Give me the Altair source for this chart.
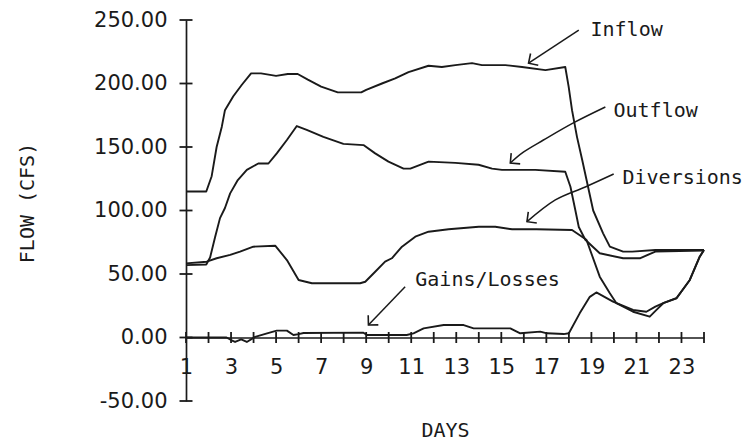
import math
import altair as alt
import pandas as pd

# ---------------- data ----------------
INFLOW_DAY = [1.0, 1.9, 2.14, 2.36, 2.59, 2.73, 3.10, 3.48, 3.89, 4.33, 5.0, 5.52, 5.96, 6.41, 7.0,
              7.74, 8.78, 9.0, 9.70, 10.29, 10.88, 11.77, 12.36, 12.96, 13.70, 14.14, 15.18, 15.92,
              16.96, 17.84, 17.99, 18.14, 18.36, 18.59, 18.81, 19.08, 19.52, 19.82, 20.41, 20.81,
              21.84, 24.0]
INFLOW_FLOW = [115, 115, 127, 150, 166, 179, 190, 199, 208, 208, 206, 207.5, 207.5, 203, 197.5,
               193, 193, 195, 200, 204, 209, 214, 213, 214.5, 216, 214.5, 214.5, 213,
               210.5, 213, 197.5, 179, 158, 140, 122, 100, 82, 71.5, 67.6, 67.6,
               68.9, 68.9]

OUTFLOW_DAY = [1.0, 1.9, 2.07, 2.29, 2.51, 2.73, 2.96, 3.3, 3.70, 4.21, 4.66, 5.03, 5.48, 5.92,
               6.36, 7.1, 7.99, 8.88, 9.4, 9.99, 10.66, 10.96, 11.77, 12.96, 13.99, 14.59, 15.03,
               16.51, 17.84, 18.07, 18.29, 18.44, 18.73, 19.37, 20.41, 21.15, 21.84, 24.0]
OUTFLOW_FLOW = [57, 57.5, 63, 79, 94, 102, 113.5, 124, 132, 137, 137, 145, 155.5, 166.5,
                163.5, 158, 152.5, 151.5, 145, 138.5, 133, 133, 138.5, 137.5, 136, 133, 132,
                132, 130.5, 118.7, 100, 87, 77, 66.3, 62.4, 62.4, 67.6, 68.5]

DIVERSIONS_DAY = [1.0, 1.92, 2.36, 2.96, 3.4, 3.99, 4.96, 5.48, 6.0, 6.59, 8.73, 8.96, 9.4, 9.84,
                  10.14, 10.59, 11.18, 11.77, 12.66, 14.0, 14.73, 15.48, 16.56, 18.14, 18.78,
                  19.37, 19.82, 20.11, 20.85, 21.59, 21.89, 22.19, 22.78, 23.37, 23.81, 24.0]
DIVERSIONS_FLOW = [58.4, 59.7, 62.4, 65, 67.6, 71.5, 72.3, 61, 45.3, 42.7, 42.7, 43.9, 51.8, 59.7,
                   62.4, 71.5, 79.4, 83.3, 85.2, 87.2, 87.2, 85.2, 85.2, 84.6, 77,
                   47.9, 34.8, 27, 20.3, 16.4, 21.7, 27, 30.9, 45.3, 63.6, 68.9]

GAINS_DAY = [1.0, 2.8, 3.0, 3.18, 3.45, 3.7, 4.07, 4.6, 5.03, 5.48, 5.77, 6.0, 6.22, 8.88, 9.03,
             10.8, 11.1, 11.55, 12.44, 13.33, 13.77, 15.4, 15.84, 16.73, 17.03, 17.77, 18.0,
             18.48, 18.93, 19.22, 19.96, 20.85, 21.44, 21.84, 22.19, 22.78, 23.37, 23.81, 24.0]
GAINS_FLOW = [0, 0, -2, -3.5, -1.5, -3.5, 0.5, 3.3, 5.4, 5.4, 2, 2.7, 3.5, 3.8, 2,
              2, 3.3, 7.2, 9.8, 9.8, 7.2, 7.2, 3.3, 4.6, 3.3, 2.7, 3.3,
              19, 32, 35.5, 28.2, 21.7, 20.3, 24.3, 27, 31, 45.3, 63.6, 68.9]

SERIES_NAMES = ["Inflow", "Outflow", "Diversions", "Gains/Losses"]

# annotation labels
LABEL_TEXT = ["Inflow", "Outflow", "Diversions", "Gains/Losses"]
LABEL_DAY = [18.96, 19.98, 20.38, 11.18]
LABEL_FLOW = [242, 178, 125.6, 44.9]

# arrow paths (label end -> tip)
ARROW_INFLOW_DAY = [18.44, 16.21]
ARROW_INFLOW_FLOW = [242, 216]
ARROW_OUTFLOW_DAY = [19.62, 18.2, 16.87, 15.98, 15.4]
ARROW_OUTFLOW_FLOW = [181.5, 169, 155.5, 146, 137.4]
ARROW_DIV_DAY = [19.99, 18.73, 17.4, 16.14]
ARROW_DIV_FLOW = [128.7, 118.5, 108.3, 91.2]
ARROW_GAINS_DAY = [10.73, 9.1]
ARROW_GAINS_FLOW = [40, 9.8]

DAY_TICKS = list(range(1, 25))
FLOW_TICKS = [-50, 0, 50, 100, 150, 200, 250]
X_DOMAIN = [1, 24]
Y_DOMAIN = [-50, 250]

# ---------------- layout / style ----------------
W, H = 518, 381
INK = "#1a1a1a"
FONT_SANS = "DejaVu Sans"
FONT_MONO = "DejaVu Sans Mono"

# ---------------- tables ----------------
rows = []
for name, days, vals in zip(SERIES_NAMES,
                            [INFLOW_DAY, OUTFLOW_DAY, DIVERSIONS_DAY, GAINS_DAY],
                            [INFLOW_FLOW, OUTFLOW_FLOW, DIVERSIONS_FLOW, GAINS_FLOW]):
    for i, (d, v) in enumerate(zip(days, vals)):
        rows.append({"series": name, "day": d, "flow": v, "order": i})
lines_df = pd.DataFrame(rows)

arrows = [("a_in", ARROW_INFLOW_DAY, ARROW_INFLOW_FLOW),
          ("a_out", ARROW_OUTFLOW_DAY, ARROW_OUTFLOW_FLOW),
          ("a_div", ARROW_DIV_DAY, ARROW_DIV_FLOW),
          ("a_gain", ARROW_GAINS_DAY, ARROW_GAINS_FLOW)]
arows, heads = [], []
px_day = W / (X_DOMAIN[1] - X_DOMAIN[0])
px_flow = H / (Y_DOMAIN[1] - Y_DOMAIN[0])
for name, days, vals in arrows:
    for i, (d, v) in enumerate(zip(days, vals)):
        arows.append({"arrow": name, "day": d, "flow": v, "order": i})
    dx = (days[-1] - days[-2]) * px_day
    dy = -(vals[-1] - vals[-2]) * px_flow
    ang = math.degrees(math.atan2(dy, dx)) % 360
    heads.append({"day": days[-1], "flow": vals[-1], "angle": ang})
arrow_df = pd.DataFrame(arows)
head_df = pd.DataFrame(heads)

labels_df = pd.DataFrame({"day": LABEL_DAY, "flow": LABEL_FLOW, "text": LABEL_TEXT})

xt_df = pd.DataFrame({"day": [float(d) for d in DAY_TICKS], "flow": [0.0] * len(DAY_TICKS)})
yt_df = pd.DataFrame({"day": [float(X_DOMAIN[0])] * len(FLOW_TICKS), "flow": [float(v) for v in FLOW_TICKS]})

x_scale = alt.Scale(domain=X_DOMAIN, nice=False, zero=False)
y_scale = alt.Scale(domain=Y_DOMAIN, nice=False, zero=False)

zero_offset = -H * (0 - Y_DOMAIN[0]) / (Y_DOMAIN[1] - Y_DOMAIN[0])

x_axis = alt.Axis(
    title="DAYS", values=DAY_TICKS, format="d",
    labelExpr="datum.value % 2 == 1 ? datum.label : ''",
    offset=zero_offset, ticks=False, grid=False,
    domainColor=INK, domainWidth=1.7,
    labelFont=FONT_SANS, labelFontSize=21, labelColor=INK, labelPadding=19,
    labelFlush=False, labelOverlap=False, labelBound=False,
    titleFont=FONT_MONO, titleFontSize=20, titleFontWeight="normal", titleColor=INK,
    titleX=W / 2, titleY=430 - (20 + H + zero_offset), titleBaseline="middle", titleAlign="center",
)
y_axis = alt.Axis(
    title="FLOW (CFS)", values=FLOW_TICKS,
    labelExpr="(datum.value < 0 ? '-' : '') + format(abs(datum.value), '.2f')",
    ticks=False, grid=False,
    domainColor=INK, domainWidth=1.7,
    labelFont=FONT_SANS, labelFontSize=21, labelColor=INK, labelPadding=19,
    labelFlush=False, labelOverlap=False, labelBound=False,
    titleFont=FONT_MONO, titleFontSize=20, titleFontWeight="normal", titleColor=INK,
    titleX=27.5 - 186, titleY=202.5 - 20, titleAngle=270, titleBaseline="middle", titleAlign="center",
)

X_ENC = alt.X("day:Q", scale=x_scale, axis=x_axis)
Y_ENC = alt.Y("flow:Q", scale=y_scale, axis=y_axis)

lines = alt.Chart(lines_df).mark_line(color=INK, strokeWidth=1.9, strokeJoin="round").encode(
    x=X_ENC, y=Y_ENC, detail="series:N", order="order:Q",
)

# crossing tick marks on both axes
xticks = alt.Chart(xt_df).mark_tick(color=INK, orient="vertical", size=11, thickness=1.8, opacity=1).encode(
    x=alt.X("day:Q", scale=x_scale), y=alt.Y("flow:Q", scale=y_scale))
yticks = alt.Chart(yt_df).mark_tick(color=INK, orient="horizontal", size=13, thickness=1.8, opacity=1).encode(
    x=alt.X("day:Q", scale=x_scale), y=alt.Y("flow:Q", scale=y_scale))

texts = alt.Chart(labels_df).mark_text(
    align="left", baseline="middle", font=FONT_MONO, fontSize=20, color=INK
).encode(x=X_ENC, y=Y_ENC, text="text:N")

shafts = alt.Chart(arrow_df).mark_line(color=INK, strokeWidth=1.5, interpolate="cardinal").encode(
    x=X_ENC, y=Y_ENC, detail="arrow:N", order="order:Q",
)

heads_layer = alt.Chart(head_df).mark_point(
    shape="M-1,-1L0,0L-1,1", size=196, filled=False, color=INK, strokeWidth=1.6, opacity=1
).encode(
    x=X_ENC, y=Y_ENC,
    angle=alt.Angle("angle:Q", scale=None),
)

chart = alt.layer(lines, xticks, yticks, texts, shafts, heads_layer).properties(
    width=W, height=H,
    autosize=alt.AutoSizeParams(type="none"),
    padding={"left": 186, "top": 20, "right": 749 - 186 - W, "bottom": 443 - 20 - H},
    background="white",
).configure_view(stroke=None)

chart.save("out.html", embed_options={"renderer": "svg", "actions": False})
